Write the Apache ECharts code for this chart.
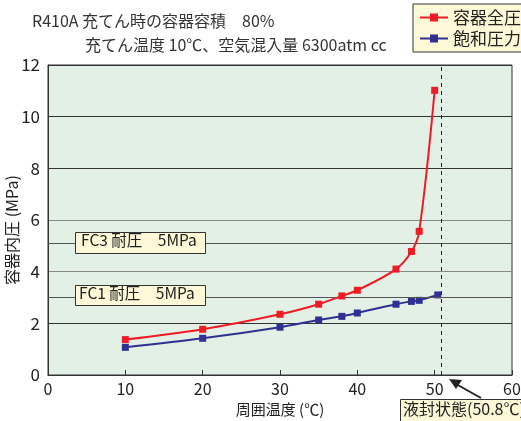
<!DOCTYPE html>
<html><head><meta charset="utf-8">
<script src="https://cdn.jsdelivr.net/npm/echarts@6/dist/echarts.min.js"></script>
<style>html,body{margin:0;padding:0;background:#fff}#c{width:521px;height:421px}</style>
</head><body><div id="c"></div>
<script>
var tempRed = [10, 20, 30, 35, 38, 40, 45, 47, 48, 50];
var totalPressure = [1.37, 1.77, 2.35, 2.74, 3.06, 3.28, 4.1, 4.78, 5.56, 11.02];
var tempBlue = [10, 20, 30, 35, 38, 40, 45, 47, 48, 50.4];
var satPressure = [1.07, 1.42, 1.85, 2.13, 2.27, 2.4, 2.74, 2.85, 2.89, 3.1];
var seriesNames = ['容器全圧', '飽和圧力'];
var liquidSealTemp = 50.8;
var fcLevels = [5.1, 3.0];
var fcLabels = ['FC3 耐圧　5MPa', 'FC1 耐圧　5MPa'];
var titleLines = ['R410A 充てん時の容器容積　80%', '充てん温度 10℃、空気混入量 6300atm cc'];
var annotation = '液封状態(50.8℃)';
var yAxisTitle = '容器内圧 (MPa)';
var xAxisTitle = '周囲温度 (℃)';

var font = '"Noto Sans CJK JP", "Noto Sans", sans-serif';
function zip(a, b) { return a.map(function (v, i) { return [v, b[i]]; }); }

var chart = echarts.init(document.getElementById('c'));
chart.setOption({
  animation: false,
  textStyle: { fontFamily: font },
  grid: { left: 48, right: 9, top: 65, bottom: 46, outerBoundsMode: 'none', containLabel: false, show: true, backgroundColor: '#e2f0e6', borderColor: '#333', borderWidth: 1 },
  legend: {
    left: 413, top: 4, orient: 'vertical', itemGap: 4, itemWidth: 28, itemHeight: 10,
    backgroundColor: '#fdf8d8', borderColor: '#333', borderWidth: 1, padding: [5, 10, 5, 6],
    textStyle: { fontSize: 17, color: '#222', fontFamily: font },
    data: seriesNames
  },
  xAxis: {
    type: 'value', min: 0, max: 60, interval: 10,
    name: xAxisTitle, nameLocation: 'middle', nameGap: 27,
    nameTextStyle: { fontSize: 15, color: '#222', fontFamily: font },
    axisLine: { show: true, lineStyle: { color: '#333' } },
    axisTick: { show: true, inside: true, length: 5, lineStyle: { color: '#333' } },
    axisLabel: { fontSize: 16, color: '#222', margin: 6 },
    splitLine: { show: false }
  },
  yAxis: {
    type: 'value', min: 0, max: 12, interval: 2,
    axisLine: { show: true, lineStyle: { color: '#333' } },
    axisTick: { show: false },
    axisLabel: { fontSize: 17, color: '#222', margin: 8 },
    splitLine: { show: true, lineStyle: { color: ['#333', '#333', '#888', '#888', '#333', '#333', '#333'], width: 1 } }
  },
  series: [
    {
      name: seriesNames[0], type: 'line', data: zip(tempRed, totalPressure),
      smooth: 0.35, symbol: 'rect', symbolSize: 7,
      lineStyle: { color: '#ee1c25', width: 2 }, itemStyle: { color: '#ee1c25' }, z: 5,
      markLine: {
        silent: true, symbol: 'none', label: { show: false },
        lineStyle: { color: '#555', type: 'solid', width: 1 },
        data: [
          { yAxis: fcLevels[0] }, { yAxis: fcLevels[1] },
          { xAxis: liquidSealTemp, lineStyle: { color: '#222', type: [4, 4], width: 1 } }
        ]
      }
    },
    {
      name: seriesNames[1], type: 'line', data: zip(tempBlue, satPressure),
      smooth: 0.3, symbol: 'rect', symbolSize: 7,
      lineStyle: { color: '#2e3192', width: 2 }, itemStyle: { color: '#2e3192' }, z: 4
    }
  ],
  graphic: [
    { type: 'text', left: 32, top: 13, style: { text: titleLines[0], fontSize: 16, fill: '#333', fontFamily: font } },
    { type: 'text', left: 85, top: 37, style: { text: titleLines[1], fontSize: 16, fill: '#333', fontFamily: font } },
    { type: 'text', x: 4, y: 230, rotation: Math.PI / 2, style: { text: yAxisTitle, fontSize: 16, fill: '#222', fontFamily: font, align: 'center', verticalAlign: 'top' } },
    { type: 'rect', shape: { x: 75.5, y: 232.5, width: 130, height: 21 }, style: { fill: '#fdf8d8', stroke: '#333', lineWidth: 1 }, z: 10 },
    { type: 'text', left: 81, top: 232, z: 11, style: { text: fcLabels[0], fontSize: 15.5, fill: '#222', fontFamily: font } },
    { type: 'rect', shape: { x: 75.5, y: 285.5, width: 130, height: 20 }, style: { fill: '#fdf8d8', stroke: '#333', lineWidth: 1 }, z: 10 },
    { type: 'text', left: 79, top: 285, z: 11, style: { text: fcLabels[1], fontSize: 15.5, fill: '#222', fontFamily: font } },
    { type: 'rect', shape: { x: 400.5, y: 399.5, width: 130, height: 24 }, style: { fill: '#fdf8d8', stroke: '#333', lineWidth: 1 }, z: 10 },
    { type: 'text', left: 403, top: 401, z: 11, style: { text: annotation, fontSize: 16, fill: '#222', fontFamily: font } },
    { type: 'line', shape: { x1: 481, y1: 398, x2: 456, y2: 384 }, style: { stroke: '#222', lineWidth: 2 }, z: 10 },
    { type: 'polygon', shape: { points: [[449, 379], [462, 380], [456, 389]] }, style: { fill: '#222' }, z: 10 }
  ]
});
</script></body></html>
